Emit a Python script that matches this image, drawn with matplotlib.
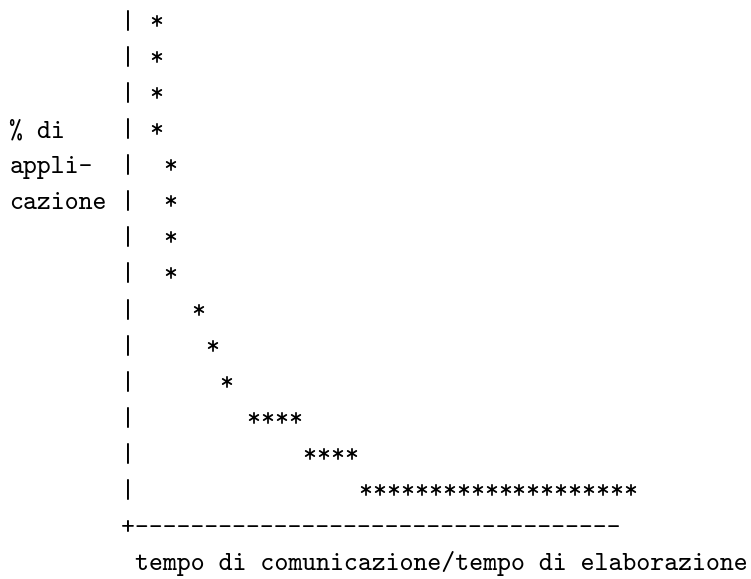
import matplotlib
matplotlib.use('Agg')
import matplotlib.pyplot as plt

# ---- data (character-cell chart: row 0 at top) ----
star_rows = [0, 1, 2, 3, 4, 5, 6, 7, 8, 9, 10, 11, 12, 13]
star_start = [10, 10, 10, 10, 11, 11, 11, 11, 13, 14, 15, 17, 21, 25]
star_count = [1, 1, 1, 1, 1, 1, 1, 1, 1, 1, 1, 4, 4, 20]
ylabel_lines = ["% di", "appli-", "cazione"]
ylabel_rows = [3, 4, 5]
xlabel = "tempo di comunicazione/tempo di elaborazione"
axis_col = 8
n_axis_rows = 14
xaxis_len = 35

FONT = ['cmtt10', 'DejaVu Sans Mono']
CW, X0 = 13.95, 9.4       # char width (px), left offset
RH, Y0 = 36.08, 21.0      # row height (px), first row centre
FS = CW / 0.525 * 72 / 100
BASE = 0.22

W, H = 751, 579
fig = plt.figure(figsize=(W / 100, H / 100), dpi=100)
fig.patch.set_facecolor('white')
ax = fig.add_axes([0, 0, 1, 1])
ax.set_xlim(-X0 / CW - 0.5, (W - X0) / CW - 0.5)
ax.set_ylim((H - Y0) / RH, -Y0 / RH)
ax.axis('off')

def put(col, row, s):
    ax.text(col - 0.5, row + BASE, s, ha='left', va='baseline',
            family=FONT, fontsize=FS, color='black')

# y-axis
for r in range(n_axis_rows):
    put(axis_col, r, '|')
# x-axis
put(axis_col, n_axis_rows, '+' + '-' * xaxis_len)
# labels
for txt, r in zip(ylabel_lines, ylabel_rows):
    put(0, r, txt)
put(axis_col + 1, n_axis_rows + 1, xlabel)

# stars
for r, c0, n in zip(star_rows, star_start, star_count):
    for k in range(n):
        put(c0 + k, r, '*')

fig.savefig('out.png', dpi=100, facecolor='white')
